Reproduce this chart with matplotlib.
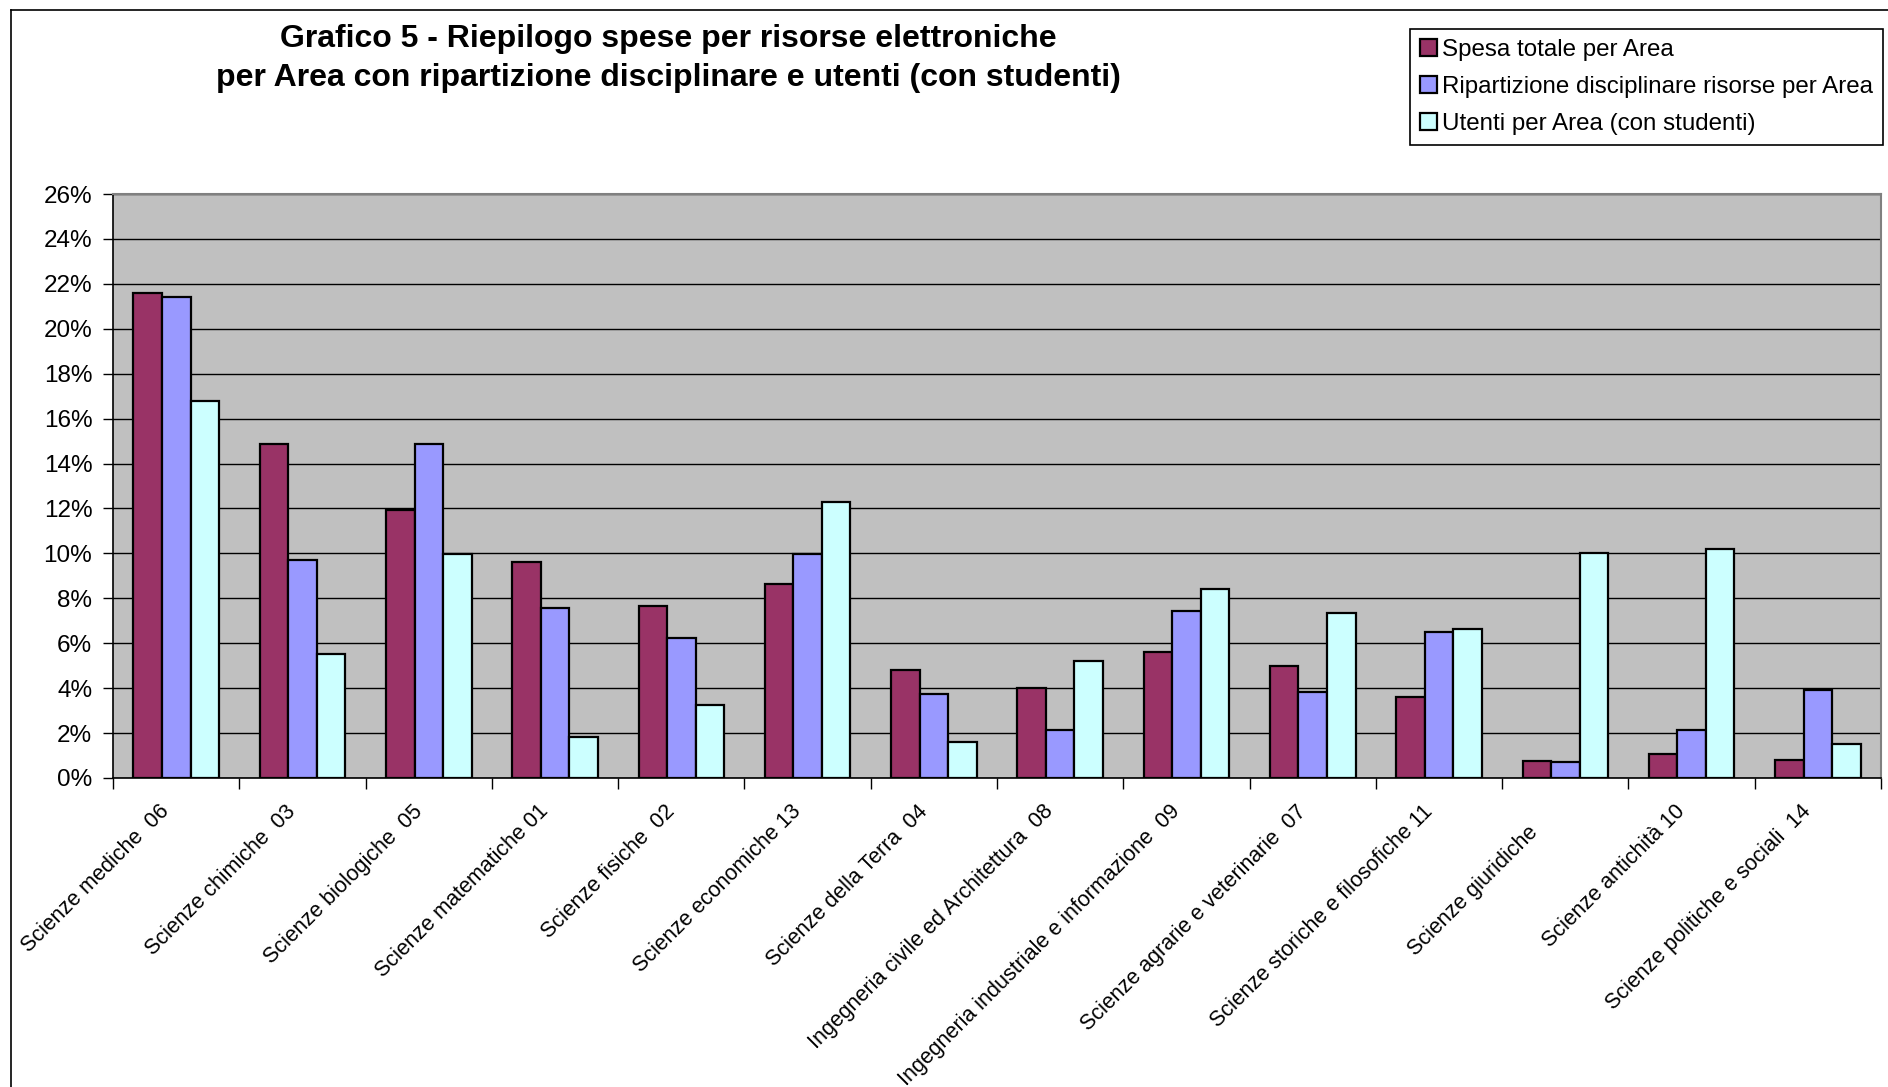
import numpy as np
import matplotlib.pyplot as plt
from matplotlib.lines import Line2D
from matplotlib.transforms import ScaledTranslation

plt.rcParams['font.family'] = ['Liberation Sans', 'DejaVu Sans']

# aree disciplinari
aree = ['Scienze mediche  06', 'Scienze chimiche  03', 'Scienze biologiche  05',
        'Scienze matematiche 01', 'Scienze fisiche  02', 'Scienze economiche 13',
        'Scienze della Terra  04', 'Ingegneria civile ed Architettura  08',
        'Ingegneria industriale e informazione  09', 'Scienze agrarie e veterinarie  07',
        'Scienze storiche e filosofiche 11', 'Scienze giuridiche     ',
        'Scienze antichità 10', 'Scienze politiche e sociali  14']

# percentuali per area
spesa_totale = [21.6, 14.85, 11.95, 9.6, 7.67, 8.63, 4.82, 4.02, 5.63, 4.99, 3.59, 0.75, 1.07, 0.80]
ripartizione = [21.4, 9.70, 14.85, 7.56, 6.22, 9.97, 3.75, 2.14, 7.45, 3.81, 6.49, 0.70, 2.14, 3.91]
utenti = [16.8, 5.52, 9.97, 1.82, 3.27, 12.28, 1.61, 5.20, 8.42, 7.34, 6.65, 10.0, 10.19, 1.50]

serie_nomi = ['Spesa totale per Area', 'Ripartizione disciplinare risorse per Area',
              'Utenti per Area (con studenti)']
colori = ['#993366', '#9999FF', '#CCFFFF']

fig = plt.figure(figsize=(18.88, 10.87), dpi=100)
ax = fig.add_axes([0.0599, 0.2843, 0.9364, 0.5372])
ax.set_facecolor('#C0C0C0')

x = np.arange(len(aree))
w = 0.226
for i, (vals, nome, col) in enumerate(zip([spesa_totale, ripartizione, utenti], serie_nomi, colori)):
    ax.bar(x + (i - 1) * w, vals, w, color=col, edgecolor='black', linewidth=1.6,
           label=nome, zorder=3)

ax.set_xlim(-0.5, len(aree) - 0.5)
ax.set_ylim(0, 26)
ax.set_yticks(np.arange(0, 27, 2))
ax.set_yticklabels([f'{v}%' for v in range(0, 27, 2)], fontsize=17.5)
ax.yaxis.grid(True, color='black', linewidth=1.0, zorder=1)
ax.tick_params(axis='y', direction='out', length=7, width=1, pad=8)

# tacche ai confini delle categorie, etichette ruotate sotto il centro
ax.set_xticks([])
ax.set_xticks(np.arange(-0.5, len(aree)), minor=True)
ax.tick_params(axis='x', which='minor', direction='out', length=8, width=1, labelbottom=False)
sposta = ScaledTranslation(-7 / 72, -22 / 72, fig.dpi_scale_trans)
for xi, nome in zip(x, aree):
    ax.text(xi, 0, nome, transform=ax.get_xaxis_transform() + sposta,
            rotation=45, rotation_mode='anchor', ha='right', va='center', fontsize=15.5)

for s in ['top', 'right']:
    ax.spines[s].set_color('#808080')
    ax.spines[s].set_linewidth(1.5)
for s in ['left', 'bottom']:
    ax.spines[s].set_color('black')
    ax.spines[s].set_linewidth(1.2)

fig.text(0.354, 1 - 24 / 1087, 'Grafico 5 - Riepilogo spese per risorse elettroniche\n'
         'per Area con ripartizione disciplinare e utenti (con studenti)',
         ha='center', va='top', fontsize=23, fontweight='bold', linespacing=1.38)

leg = fig.legend(loc='upper left', bbox_to_anchor=(1410 / 1888, 1 - 29 / 1087),
                 fontsize=17.4, frameon=True, fancybox=False, edgecolor='black',
                 framealpha=1, handlelength=0.7, handleheight=0.7, handletextpad=0.2,
                 labelspacing=0.62, borderpad=0.42, borderaxespad=0)
leg.get_frame().set_linewidth(1.2)

# cornice del grafico
fig.add_artist(Line2D([11 / 1888, 11 / 1888], [0, 1 - 10 / 1087], color='black', linewidth=1.2))
fig.add_artist(Line2D([11 / 1888, 1], [1 - 10 / 1087, 1 - 10 / 1087], color='black', linewidth=1.2))

fig.savefig('out.png', dpi=100)
